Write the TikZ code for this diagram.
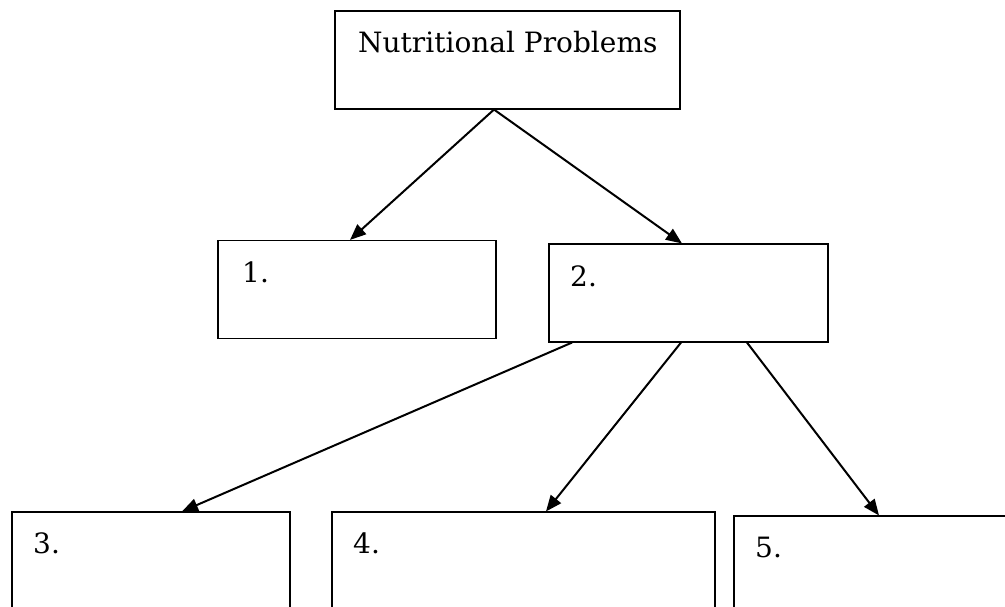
\documentclass[tikz,border=0pt]{standalone}
\usepackage{fontspec}
\setmainfont{DejaVu Serif}
\usepackage{pgf,tikz}
\usetikzlibrary{arrows.meta}

\tikzset{
	box/.style={draw, line width=1.1pt, rectangle, minimum height=98pt, inner sep=0pt},
	lbl/.style={anchor=base west, inner sep=0pt, font=\fontsize{28}{34}\selectfont},
	arr/.style={line width=2pt, -{Triangle[length=16pt,width=13pt]}}
}

\begin{document}
\begin{tikzpicture}[x=1pt,y=-1pt]
	\useasboundingbox (0,0) rectangle (1005,607);
	\clip (0,0) rectangle (1005,607);
	\node[box, minimum width=345pt] (top) at (507.5,60) {};
	\node[lbl] (toptext) at (358,53) {Nutritional Problems};
	\node[box, minimum width=278pt] (b1) at (357,289.5) {};
	\node[box, minimum width=279pt] (b2) at (688.5,293) {};
	\node[box, minimum width=278pt] (b3) at (151,561) {};
	\node[box, minimum width=383pt] (b4) at (523.5,561) {};
	\node[box, minimum width=278pt] (b5) at (873,565) {};
	\node[lbl] (l1) at (242,282) {1.};
	\node[lbl] (l2) at (570,286) {2.};
	\node[lbl] (l3) at (33,553) {3.};
	\node[lbl] (l4) at (353,553) {4.};
	\node[lbl] (l5) at (755,557) {5.};
	% arrows
	\draw[arr] ([xshift=-13.5pt]top.south) -- ([xshift=-7pt]b1.north);
	\draw[arr] ([xshift=-13.5pt]top.south) -- ([xshift=-6.5pt]b2.north);
	\draw[arr] ([xshift=-116.5pt]b2.south) -- ([xshift=31pt]b3.north);
	\draw[arr] ([xshift=-7.5pt]b2.south) -- ([xshift=22.5pt]b4.north);
	\draw[arr] ([xshift=58.5pt]b2.south) -- ([xshift=6pt]b5.north);
\end{tikzpicture}
\end{document}
